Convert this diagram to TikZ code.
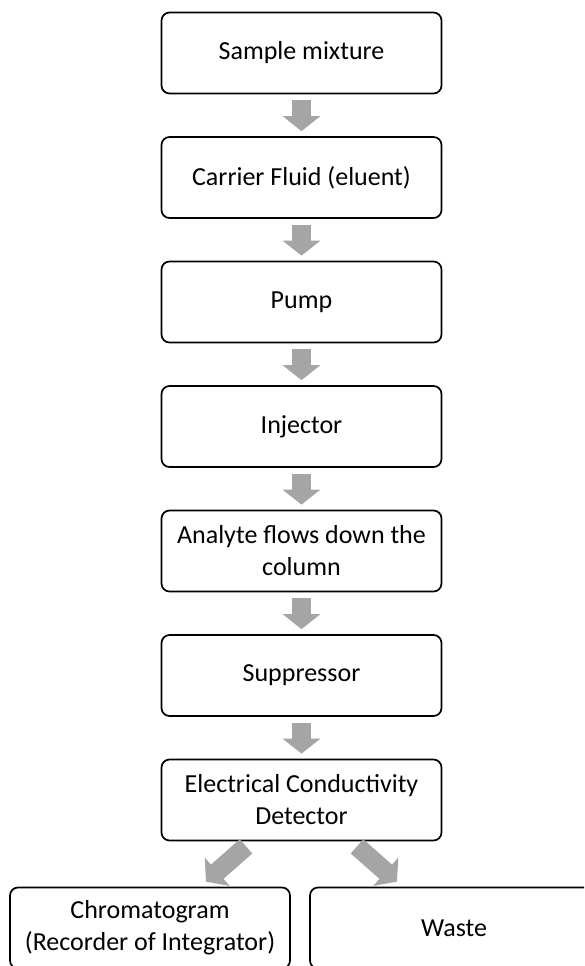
\documentclass[tikz,border=0pt]{standalone}
\usepackage{fontspec}
\setmainfont{Carlito}
\usepackage{xcolor}
\usetikzlibrary{arrows.meta,calc}

\definecolor{flowgray}{RGB}{165,165,165}

\begin{document}
\begin{tikzpicture}[
            x=1pt, y=-1pt,
            step_box/.style={draw=black, line width=1.7pt, rounded corners=8pt, fill=white,
                             minimum width=280pt, minimum height=81pt, align=center,
                             font=\fontsize{26}{32}\selectfont},
            flow/.style={flowgray, line width=19pt, -{Triangle[width=37pt, length=15pt]}},
            down_flow/.style={flow, shorten <=6pt, shorten >=5pt}
        ]

        % Frame of the page
        \useasboundingbox (0,0) rectangle (584,966);
        \clip (0,0) rectangle (584,966);

        % Define coordinates for the steps
        \coordinate (C1) at (301.5, 53);
        \coordinate (C2) at (301.5, 177.5);
        \coordinate (C3) at (301.5, 302);
        \coordinate (C4) at (301.5, 426.5);
        \coordinate (C5) at (301.5, 551);
        \coordinate (C6) at (301.5, 675.5);
        \coordinate (C7) at (301.5, 800);

        \coordinate (L1) at (150, 928);
        \coordinate (R1) at (454, 928);

        % Main column of steps
        \node[step_box] (sample) at (C1) {Sample mixture};
        \node[step_box] (carrier) at (C2) {Carrier Fluid (eluent)};
        \node[step_box] (pump) at (C3) {Pump};
        \node[step_box] (injector) at (C4) {Injector};
        \node[step_box] (column) at (C5) {Analyte flows down the\\column};
        \node[step_box] (suppressor) at (C6) {Suppressor};
        \node[step_box] (detector) at (C7) {Electrical Conductivity\\Detector};

        % Outputs
        \node[step_box] (chrom) at (L1) {Chromatogram\\(Recorder of Integrator)};
        \node[step_box, minimum width=288pt] (waste) at (R1) {Waste};

        % Flow between the steps
        \draw[down_flow] (sample) -- (carrier);
        \draw[down_flow] (carrier) -- (pump);
        \draw[down_flow] (pump) -- (injector);
        \draw[down_flow] (injector) -- (column);
        \draw[down_flow] (column) -- (suppressor);
        \draw[down_flow] (suppressor) -- (detector);

        % Split to the outputs
        \draw[flow] ($(detector.south)+(-55.5,5)$) -- ($(chrom.north)+(56,-5)$);
        \draw[flow] ($(detector.south)+(55.5,5)$) -- ($(waste.north)+(-57,-5)$);

    \end{tikzpicture}
\end{document}
